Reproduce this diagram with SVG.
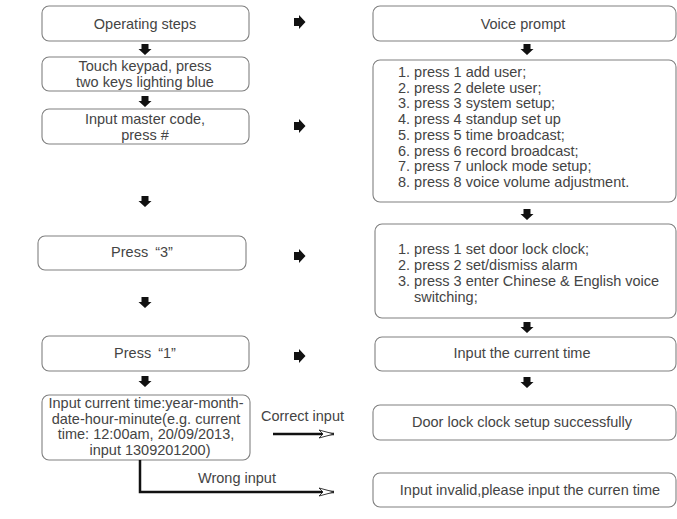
<svg xmlns="http://www.w3.org/2000/svg" width="677" height="519" viewBox="0 0 677 519">
<style>
.box{fill:#fff;stroke:#808080;stroke-width:1.1}
.t{font-family:"Liberation Sans",Arial,sans-serif;font-size:14.5px;fill:#444}
.c{text-anchor:middle}
.blk{fill:#111}
.ln{fill:none;stroke:#111;stroke-width:2.5}
</style>
<defs>
<path id="da" d="M-3.5,0 h7 v5 h3 l-6.5,6 l-6.5,-6 h3 z"/>
<path id="ra" d="M0,-4 h5 v-3 l6.5,7 l-6.5,7 v-3 h-5 z"/>
<marker id="oa" markerWidth="16" markerHeight="10" refX="15" refY="5" orient="auto" markerUnits="userSpaceOnUse">
<path d="M0,1 L15,5 L0,9 L4,5 z" fill="#fff" stroke="#222" stroke-width="0.9"/>
</marker>
</defs>
<rect width="677" height="519" fill="#fff"/>

<g id="n1"><rect class="box" x="42" y="6" width="207" height="35" rx="7"/><text class="t c" x="145" y="29">Operating steps</text></g>
<g id="n2"><rect class="box" x="42" y="57" width="207" height="34" rx="7"/><text class="t c" x="145" y="71">Touch keypad, press</text><text class="t c" x="145" y="87">two keys lighting blue</text></g>
<g id="n3"><rect class="box" x="42" y="109" width="207" height="35" rx="7"/><text class="t c" x="145" y="124">Input master code,</text><text class="t c" x="145" y="140">press #</text></g>
<g id="n4"><rect class="box" x="38" y="236" width="208" height="34" rx="7"/><text class="t c" x="142" y="257">Press<tspan dx="7">“3”</tspan></text></g>
<g id="n5"><rect class="box" x="42" y="336" width="207" height="35" rx="7"/><text class="t c" x="145" y="358">Press<tspan dx="7">“1”</tspan></text></g>
<g id="n6"><rect class="box" x="42" y="395" width="208" height="65" rx="7"/>
<text class="t c" x="146" y="408">Input current time:year-month-</text>
<text class="t c" x="146" y="424">date-hour-minute(e.g. current</text>
<text class="t c" x="146" y="439">time: 12:00am, 20/09/2013,</text>
<text class="t c" x="150" y="455">input 1309201200)</text></g>

<g id="r1"><rect class="box" x="373" y="6" width="303" height="35" rx="7"/><text class="t c" x="523" y="29">Voice prompt</text></g>
<g id="r2"><rect class="box" x="373" y="60" width="303" height="142" rx="7"/>
<text class="t" x="398" y="77">1. press 1 add user;</text>
<text class="t" x="398" y="92.5">2. press 2 delete user;</text>
<text class="t" x="398" y="108">3. press 3 system setup;</text>
<text class="t" x="398" y="124">4. press 4 standup set up</text>
<text class="t" x="398" y="140">5. press 5 time broadcast;</text>
<text class="t" x="398" y="155.5">6. press 6 record broadcast;</text>
<text class="t" x="398" y="171">7. press 7 unlock mode setup;</text>
<text class="t" x="398" y="187">8. press 8 voice volume adjustment.</text></g>
<g id="r3"><rect class="box" x="375" y="224" width="301" height="94" rx="7"/>
<text class="t" x="398" y="254">1. press 1 set door lock clock;</text>
<text class="t" x="398" y="270">2. press 2 set/dismiss alarm</text>
<text class="t" x="398" y="286">3. press 3 enter Chinese &amp; English voice</text>
<text class="t" x="414" y="302">switching;</text></g>
<g id="r4"><rect class="box" x="375" y="337" width="301" height="34" rx="7"/><text class="t c" x="522" y="358">Input the current time</text></g>
<g id="r5"><rect class="box" x="373" y="405" width="303" height="35" rx="7"/><text class="t c" x="522" y="427">Door lock clock setup successfully</text></g>
<g id="r6"><rect class="box" x="373" y="473" width="303" height="34" rx="7"/><text class="t c" x="530" y="495">Input invalid,please input the curren time</text></g>

<g id="connectors">
<use href="#da" class="blk" x="145" y="44"/>
<use href="#da" class="blk" x="145" y="96"/>
<use href="#da" class="blk" x="145" y="196"/>
<use href="#da" class="blk" x="145" y="297"/>
<use href="#da" class="blk" x="145" y="376"/>
<use href="#da" class="blk" x="527" y="44"/>
<use href="#da" class="blk" x="527" y="209"/>
<use href="#da" class="blk" x="527" y="322"/>
<use href="#da" class="blk" x="527" y="377"/>
<use href="#ra" class="blk" x="294" y="22"/>
<use href="#ra" class="blk" x="294" y="126"/>
<use href="#ra" class="blk" x="294" y="256"/>
<use href="#ra" class="blk" x="294" y="356"/>
<path class="ln" d="M273,434 H334" marker-end="url(#oa)"/>
<path class="ln" d="M140,460 V492 H334" marker-end="url(#oa)"/>
<text class="t" x="261" y="421">Correct input</text>
<text class="t c" x="237" y="483">Wrong input</text>
</g>
</svg>
